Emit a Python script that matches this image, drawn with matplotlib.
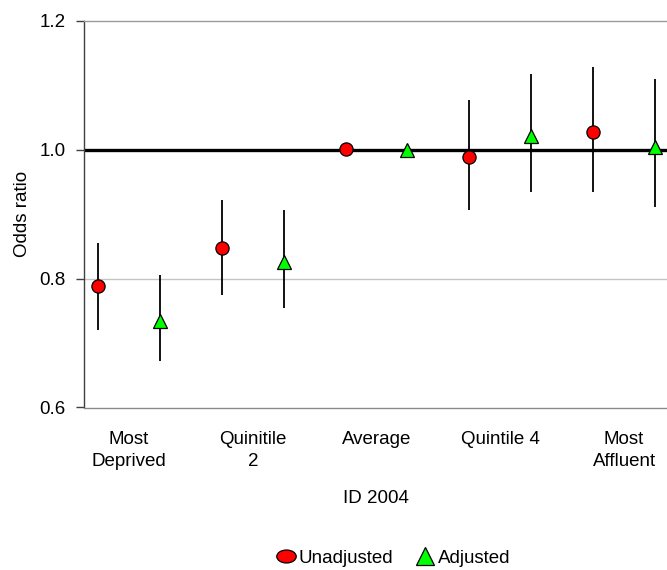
import matplotlib
matplotlib.use("Agg")
import matplotlib.pyplot as plt
from matplotlib.path import Path
from matplotlib.lines import Line2D
from matplotlib.transforms import Affine2D

categories = ["Most\nDeprived", "Quinitile\n2", "Average", "Quintile 4", "Most\nAffluent"]
unadj = [0.788, 0.848, 1.002, 0.989, 1.027]
unadj_lo = [0.721, 0.774, 1.002, 0.907, 0.934]
unadj_hi = [0.855, 0.922, 1.002, 1.077, 1.128]
adj = [0.735, 0.826, 1.000, 1.021, 1.005]
adj_lo = [0.672, 0.755, 1.000, 0.934, 0.911]
adj_hi = [0.806, 0.907, 1.000, 1.117, 1.110]
yticks = [0.6, 0.8, 1.0, 1.2]
ytick_labels = ["0.6", "0.8", "1.0", "1.2"]
series_names = ["Unadjusted", "Adjusted"]

plt.rcParams['font.family'] = ['Liberation Sans', 'DejaVu Sans']
FS = 13.5

fig = plt.figure(figsize=(6.67, 5.70), dpi=100)
ax = fig.add_axes([84/667, 1 - 407.5/570, 1 - 84/667, (407.5 - 21)/570])

x = list(range(len(categories)))
off = 0.25
xu = [i - off for i in x]
xa = [i + off for i in x]

# gridline and reference line
ax.axhline(0.8, color="#c4c4c4", lw=1.0, zorder=1)
ax.axhline(1.0, color="black", lw=2.4, zorder=2)

ax.vlines(xu, unadj_lo, unadj_hi, color="black", lw=1.3, zorder=3)
ax.vlines(xa, adj_lo, adj_hi, color="black", lw=1.3, zorder=3)
ax.plot(xu, unadj, linestyle="none", marker="o", ms=9.5, mfc="#ff0000",
        mec="black", mew=0.9, zorder=4)
ax.plot(xa, adj, linestyle="none", marker="^", ms=10.5, mfc="#00ff00",
        mec="black", mew=0.9, zorder=4)

ax.set_xlim(-0.364, 4.347)
ax.set_ylim(0.6, 1.2)
ax.set_yticks(yticks)
ax.set_yticklabels(ytick_labels, fontsize=FS)
ax.set_xticks(x)
ax.set_xticklabels(categories, fontsize=FS, linespacing=1.35)
ax.tick_params(axis="x", length=0, pad=17)
ax.tick_params(axis="y", length=6, width=1.0, color="#404040", pad=7, direction="out")

ax.spines["right"].set_visible(False)
ax.spines["top"].set_color("#9a9a9a")
ax.spines["bottom"].set_color("#8a8a8a")
ax.spines["left"].set_color("#404040")
for s in ["top", "bottom", "left"]:
    ax.spines[s].set_linewidth(1.0)

ax.set_ylabel("Odds ratio", fontsize=FS, labelpad=6.5)
ax.set_xlabel("ID 2004", fontsize=FS, labelpad=15)

ell = Path.unit_circle().transformed(Affine2D().scale(1.5, 1.0))
h1 = Line2D([], [], linestyle="none", marker=ell, ms=14, mfc="#ff0000", mec="black", mew=0.9)
h2 = Line2D([], [], linestyle="none", marker="^", ms=13, mfc="#00ff00", mec="black", mew=0.9)
fig.legend([h1, h2], series_names, loc="center", bbox_to_anchor=(0.59, 1 - 558/570),
           ncol=2, frameon=False, fontsize=FS, handlelength=1.0, handletextpad=0.2,
           columnspacing=1.2, borderpad=0)

fig.savefig("out.png", dpi=100)
